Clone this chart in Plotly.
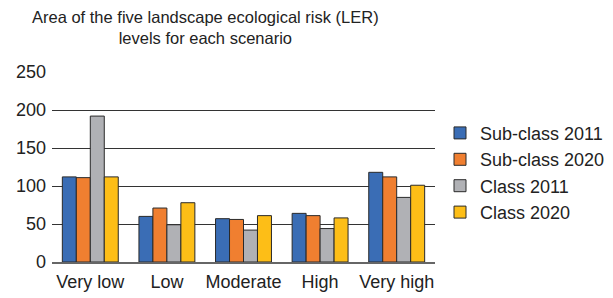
import plotly.graph_objects as go

categories = ["Very low", "Low", "Moderate", "High", "Very high"]
series_names = ["Sub-class 2011", "Sub-class 2020", "Class 2011", "Class 2020"]
sub_2011 = [112, 60, 57, 64, 118]
sub_2020 = [111, 71, 56, 61, 112]
class_2011 = [192, 49, 42, 44, 85]
class_2020 = [112, 78, 61, 58, 101]
y_ticks = [0, 50, 100, 150, 200, 250]

colors = ["#3A6DB5", "#F07F30", "#B0B1B5", "#FDBE17"]
values = [sub_2011, sub_2020, class_2011, class_2020]

fig = go.Figure()
for name, vals, c in zip(series_names, values, colors):
    fig.add_trace(go.Bar(x=categories, y=vals, name=name,
                         marker=dict(color=c, line=dict(color="#2a2a2a", width=1))))

fig.add_annotation(
    text="Area of the five landscape ecological risk (LER)<br>levels for each scenario",
    xref="paper", yref="paper", x=(205 - 52) / 383, y=1.0, yshift=66,
    xanchor="center", yanchor="top", showarrow=False, align="center",
    font=dict(size=16.5, color="#222"),
)

fig.update_layout(
    width=613, height=298,
    margin=dict(l=52, r=178, t=72, b=36, autoexpand=False),
    paper_bgcolor="white", plot_bgcolor="white",
    barmode="group", bargap=0.27, bargroupgap=0,
    font=dict(family="Liberation Sans, Arial, sans-serif", color="#222", size=18),
    legend=dict(x=(440 - 52) / 383, xanchor="left", y=0.47, yanchor="middle",
                font=dict(size=18, color="#222"), tracegroupgap=0, itemwidth=30,
                bgcolor="rgba(0,0,0,0)"),
    showlegend=True,
)
fig.update_yaxes(range=[0, 250], tickvals=y_ticks, showgrid=True, gridcolor="#333",
                 gridwidth=1, zeroline=False, showline=False, automargin=False,
                 tickfont=dict(size=18), ticks="", ticklen=0, ticklabelstandoff=5)
fig.update_xaxes(showline=True, linecolor="#666", linewidth=1.5, ticks="",
                 automargin=False, tickfont=dict(size=18), ticklabelstandoff=3)

fig.write_html("out.html", config={"displayModeBar": False},
               post_script="document.body.style.margin='0';")
